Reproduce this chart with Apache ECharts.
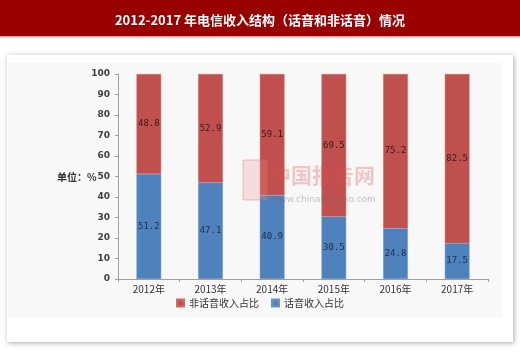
<!DOCTYPE html>
<html><head><meta charset="utf-8">
<script src="https://cdn.jsdelivr.net/npm/echarts@6/dist/echarts.min.js"></script>
<style>html,body{margin:0;padding:0;background:#fff}#c{width:520px;height:352px}</style>
</head><body><div id="c"></div>
<script>
var categories = ['2012年','2013年','2014年','2015年','2016年','2017年'];
var voiceShare = [51.2, 47.1, 40.9, 30.5, 24.8, 17.5];
var nonVoiceShare = [48.8, 52.9, 59.1, 69.5, 75.2, 82.5];
var yTicks = [0,10,20,30,40,50,60,70,80,90,100];

var chart = echarts.init(document.getElementById('c'), null, {renderer:'canvas'});
var labelStyle = {show:true, position:'inside', fontFamily:'DejaVu Sans Mono', fontSize:9, formatter:function(p){return p.value.toFixed(1);}};
chart.setOption({
  animation:false,
  backgroundColor:'#ffffff',
  title:{text:'2012-2017 年电信收入结构（话音和非话音）情况', left:'center', top:9,
    textStyle:{color:'#ffffff', fontSize:13, fontWeight:'bold', fontFamily:'Noto Sans CJK SC'}},
  graphic:{elements:[
    {type:'rect', z:-10, shape:{x:0,y:0,width:520,height:36}, style:{fill:'#990000'}},
    {type:'rect', z:-10, shape:{x:0,y:36,width:520,height:1.5}, style:{fill:'#f0a0a0'}},
    {type:'rect', z:-10, shape:{x:7,y:55,width:506,height:287}, style:{fill:'#ffffff', shadowBlur:5, shadowColor:'rgba(0,0,0,0.35)', shadowOffsetX:1, shadowOffsetY:1}},
    {type:'rect', z:-9, shape:{x:8,y:63,width:494,height:255}, style:{fill:'#f8f8f8'}},
    {type:'text', z:-5, left:57, top:172, style:{text:'单位：%', fontSize:10, fontWeight:'bold', fill:'#333', fontFamily:'Noto Sans CJK SC'}},
    {type:'text', z:20, left:270, top:165, style:{text:'中国报告网', fontSize:21, fontWeight:'bold', fill:'rgba(220,80,80,0.3)', fontFamily:'Noto Sans CJK SC'}},
    {type:'text', z:20, left:272, top:195, style:{text:'www.chinabaogao.com', fontSize:9, fill:'rgba(110,110,110,0.4)', fontFamily:'DejaVu Sans'}},
    {type:'rect', z:20, shape:{x:243,y:160,width:24,height:40}, style:{fill:'rgba(230,140,140,0.25)', stroke:'rgba(220,100,100,0.35)'}}
  ]},
  grid:{left:118, right:32, top:74, bottom:73},
  legend:{bottom:39, left:'center', itemWidth:7, itemHeight:7, itemGap:12, icon:'rect',
    textStyle:{fontSize:10, color:'#333', fontFamily:'Noto Sans CJK SC'},
    data:['非话音收入占比','话音收入占比']},
  xAxis:{type:'category', data:categories,
    axisLine:{lineStyle:{color:'#a0a0a0'}},
    axisTick:{show:true, alignWithLabel:false, length:3, lineStyle:{color:'#a0a0a0'}},
    axisLabel:{fontSize:10, color:'#333', fontFamily:'Noto Sans CJK SC', margin:5}},
  yAxis:{type:'value', min:0, max:100, interval:10,
    axisLine:{show:true, lineStyle:{color:'#a0a0a0'}},
    axisTick:{show:true, length:3, lineStyle:{color:'#a0a0a0'}},
    splitLine:{show:false},
    axisLabel:{fontSize:9, color:'#404040', fontWeight:'bold', fontFamily:'DejaVu Sans', margin:8,
      formatter:function(v){return yTicks.indexOf(v)>=0 ? String(v) : '';}}},
  series:[
    {name:'话音收入占比', type:'bar', stack:'s', data:voiceShare, barWidth:'40%',
      itemStyle:{color:'#4f81bd', borderColor:'#6a94c8', borderWidth:0.5},
      label:Object.assign({color:'#1f2f4f'}, labelStyle)},
    {name:'非话音收入占比', type:'bar', stack:'s', data:nonVoiceShare, barWidth:'40%',
      itemStyle:{color:'#c0504d', borderColor:'#d06a67', borderWidth:0.5},
      label:Object.assign({color:'#3a1a1a'}, labelStyle)}
  ]
});
</script></body></html>
